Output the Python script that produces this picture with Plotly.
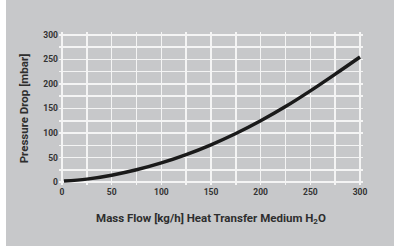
import plotly.graph_objects as go

mass_flow = [2, 25, 50, 75, 100, 125, 150, 175, 200, 225, 250, 275, 300]
pressure_drop = [2, 6, 14, 25, 39, 56, 76, 99, 125, 154, 186, 220, 255]
tick_vals = [0, 25, 50, 75, 100, 125, 150, 175, 200, 225, 250, 275, 300]
tick_text = ["0", "", "50", "", "100", "", "150", "", "200", "", "250", "", "300"]

FONT = "Liberation Sans Narrow, Roboto, sans-serif"
GRAY = "#c7c8ca"

tick_font = dict(size=8.5, family=FONT, weight="bold", color="#333333")
title_font = dict(size=11.5, family=FONT, weight="bold", color="#2e2e2e")

fig = go.Figure()
fig.add_trace(go.Scatter(x=mass_flow, y=pressure_drop, mode="lines",
                         line=dict(color="#1a1a1a", width=3.5, shape="spline"),
                         hoverinfo="skip"))

fig.update_layout(
    width=394, height=247,
    margin=dict(l=59, r=31, t=32, b=62),
    paper_bgcolor=GRAY, plot_bgcolor=GRAY,
    showlegend=False,
    font=dict(family=FONT, color="#333333"),
    xaxis=dict(range=[-3, 303], tickvals=tick_vals, ticktext=tick_text,
               showgrid=True, gridcolor="#f4f4f4", gridwidth=1.5,
               zeroline=False, showline=False, ticks="", automargin=False,
               tickfont=tick_font,
               title=dict(text="Mass Flow [kg/h] Heat Transfer Medium H<sub>2</sub>O",
                          font=title_font, standoff=18)),
    yaxis=dict(range=[-6, 306], tickvals=tick_vals, ticktext=tick_text,
               showgrid=True, gridcolor="#f4f4f4", gridwidth=1.5,
               zeroline=False, showline=False, ticks="", automargin=False,
               tickfont=tick_font,
               title=dict(text="Pressure Drop [mbar]",
                          font=title_font, standoff=12)),
)

# white strips at the left and bottom edges of the picture
fig.add_shape(type="rect", xref="paper", yref="paper",
              x0=-59/304, x1=-53/304, y0=-62/153, y1=(153+32)/153,
              fillcolor="white", line=dict(width=0), layer="above")
fig.add_shape(type="rect", xref="paper", yref="paper",
              x0=-59/304, x1=(304+31)/304, y0=-62/153, y1=-61/153,
              fillcolor="white", line=dict(width=0), layer="above")

fig.write_html("out.html", config={"displayModeBar": False, "staticPlot": True},
               post_script="document.body.style.margin='0';")
